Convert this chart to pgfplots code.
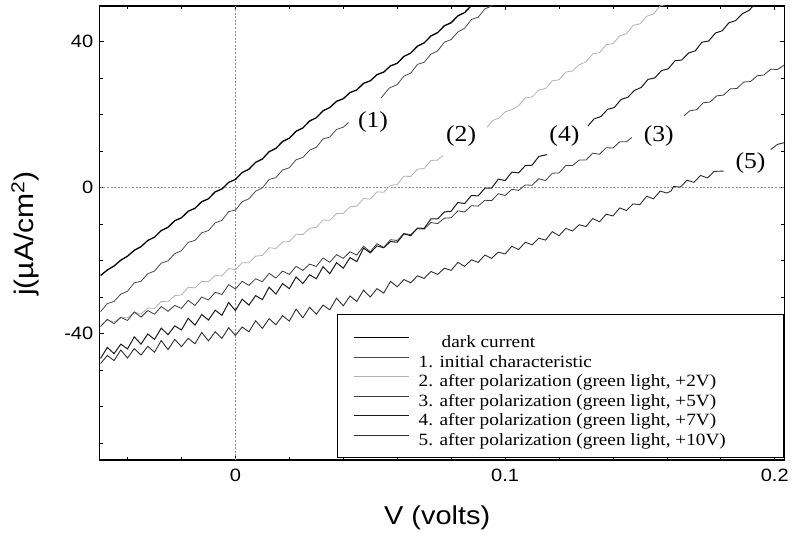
\documentclass[border=0pt]{standalone}
\usepackage{fontspec}
\setmainfont{Liberation Sans}[FakeStretch=1.12]
\newfontfamily\seriffont{Liberation Serif}[FakeStretch=1.12]
\usepackage{pgfplots}
\pgfplotsset{compat=1.18}
\usetikzlibrary{calc}
\definecolor{cdark}{HTML}{000000}
\definecolor{cone}{HTML}{4A4A4A}
\definecolor{ctwo}{HTML}{B2B2B2}
\definecolor{cthree}{HTML}{3C3C3C}
\definecolor{cfour}{HTML}{1A1A1A}
\definecolor{cfive}{HTML}{2E2E2E}
\begin{document}
\begin{tikzpicture}
\begin{axis}[
  scale only axis, width=686bp, height=455bp,
  xmin=-0.0503, xmax=0.2035, ymin=-74.6, ymax=49.7,
  xtick={0,0.1,0.2}, minor xtick={-0.04,-0.02,0.02,0.04,0.06,0.08,0.12,0.14,0.16,0.18},
  ytick={-40,0,40}, minor ytick={-70,-60,-50,-30,-20,-10,10,20,30},
  xticklabels={0,0.1,0.2},
  tick pos=both, tick align=inside,
  major tick length=4bp, minor tick length=3bp,
  tick style={black, line width=0.7bp},
  axis line style={line width=1.3bp},
  /pgf/number format/assume math mode=true,
  ticklabel style={font=\fontsize{18}{20}\selectfont},
  xticklabel style={yshift=-6bp},
  yticklabel style={xshift=-3bp},
  xlabel={V (volts)}, ylabel={j(µA/cm\textsuperscript{2})},
  xlabel style={font=\fontsize{26}{28}\selectfont, at={(axis description cs:0.493,-0.127)}, anchor=center},
  ylabel style={font=\fontsize{27}{29}\selectfont, at={(axis description cs:-0.109,0.499)}, anchor=center},
  legend style={at={(rel axis cs:1,0.321)}, anchor=north east, draw=black, line width=1bp,
    font=\seriffont\fontsize{17.3}{20}\selectfont, inner xsep=16bp, inner ysep=12bp,
    row sep=-2.6bp, column sep=7bp, nodes={inner ysep=0.8bp, text height=20.5bp, text depth=0bp}},
  legend cell align=left,
  legend image code/.code={\draw[#1] (0bp,0bp) -- (55bp,0bp);},
]
\draw[ctwo!80!black, line width=0.6bp, dash pattern=on 2bp off 1.6bp] (axis cs:0,-74.6) -- (axis cs:0,49.7);
\draw[ctwo!80!black, line width=0.6bp, dash pattern=on 2bp off 1.6bp] (axis cs:-0.0503,0) -- (axis cs:0.2035,0);

% dark current
\addplot[cdark, line width=1.3bp] coordinates {
(-0.05,-24.1) (-0.0475,-22.6) (-0.045,-21.5) (-0.0425,-19.9) (-0.04,-18.8) (-0.0375,-17.2)
(-0.035,-16.2) (-0.0325,-14.5) (-0.03,-13.6) (-0.0275,-11.8) (-0.025,-10.9) (-0.0225,-9.1)
(-0.02,-8.3) (-0.0175,-6.5) (-0.015,-5.7) (-0.0125,-3.9) (-0.01,-3.1) (-0.0075,-1.2)
(-0.005,-0.4) (-0.0025,1.4) (0,2.2) (0.0025,4.1) (0.005,5.0) (0.0075,6.9) (0.01,7.8)
(0.0125,9.8) (0.015,10.7) (0.0175,12.6) (0.02,13.5) (0.0225,15.4) (0.025,16.3) (0.0275,18.2)
(0.03,19.1) (0.0325,21.0) (0.035,21.9) (0.0375,23.6) (0.04,24.3) (0.0425,26.0) (0.045,26.7)
(0.0475,28.5) (0.05,29.2) (0.0525,30.9) (0.055,31.6) (0.0575,33.3) (0.06,34.0) (0.0625,35.9)
(0.065,36.8) (0.0675,38.7) (0.07,39.6) (0.0725,41.5) (0.075,42.4) (0.0775,44.3) (0.08,45.1)
(0.0825,47.0) (0.085,47.9) (0.0875,49.8) (0.09,50.7) (0.095,53.5)
};
% 1. initial characteristic
\addplot[cone, line width=0.8bp] coordinates {
(-0.05,-34.0) (-0.0475,-31.8) (-0.045,-31.2) (-0.0425,-29.2) (-0.04,-28.4) (-0.0375,-26.1)
(-0.035,-25.7) (-0.0325,-23.6) (-0.03,-22.9) (-0.0275,-20.7) (-0.025,-20.1) (-0.0225,-18.1)
(-0.02,-17.3) (-0.0175,-15.0) (-0.015,-14.5) (-0.0125,-12.4) (-0.01,-11.8) (-0.0075,-9.7)
(-0.005,-9.0) (-0.0025,-6.6) (0,-6.2) (0.0025,-3.9) (0.005,-3.1) (0.0075,-1.0) (0.01,-0.1)
(0.0125,2.2) (0.015,2.7) (0.0175,4.8) (0.02,5.4) (0.0225,7.6) (0.025,8.2) (0.0275,10.2)
(0.03,11.0) (0.0325,13.3) (0.035,13.8) (0.0375,15.9) (0.04,16.5) (0.042,17.8)
};
% 2. +2V
\addplot[ctwo, line width=0.8bp] coordinates {
(-0.05,-37.8) (-0.0475,-36.3) (-0.045,-36.8) (-0.0425,-35.5) (-0.04,-35.7) (-0.0375,-34.1)
(-0.035,-34.7) (-0.0325,-33.0) (-0.03,-33.1) (-0.0275,-31.2) (-0.025,-31.3) (-0.0225,-29.6)
(-0.02,-29.4) (-0.0175,-27.3) (-0.015,-27.5) (-0.0125,-25.7) (-0.01,-25.8) (-0.0075,-24.1)
(-0.005,-24.2) (-0.0025,-22.2) (0,-22.5) (0.0025,-20.6) (0.005,-20.6) (0.0075,-18.8)
(0.01,-18.6) (0.0125,-16.5) (0.015,-16.7) (0.0175,-14.9) (0.02,-14.8) (0.0225,-12.8)
(0.025,-12.9) (0.0275,-11.2) (0.03,-10.9) (0.0325,-8.9) (0.035,-9.0) (0.0375,-7.1)
(0.04,-7.1) (0.0425,-5.3) (0.045,-5.1) (0.0475,-3.0) (0.05,-3.2) (0.0525,-1.2) (0.055,-1.3)
(0.0575,0.6) (0.06,0.8) (0.0625,3.1) (0.065,3.0) (0.0675,5.0) (0.07,5.2) (0.0725,7.4)
(0.075,7.5) (0.077,8.8)
};
% 3. +5V
\addplot[cthree, line width=0.8bp] coordinates {
(-0.05,-38.1) (-0.0475,-36.1) (-0.045,-37.3) (-0.0425,-35.6) (-0.04,-36.4) (-0.0375,-34.1)
(-0.035,-35.5) (-0.0325,-33.7) (-0.03,-34.7) (-0.0275,-32.6) (-0.025,-33.9) (-0.0225,-32.3)
(-0.02,-33.1) (-0.0175,-30.9) (-0.015,-32.3) (-0.0125,-30.0) (-0.01,-30.8) (-0.0075,-28.7)
(-0.005,-29.3) (-0.0025,-26.6) (0,-27.8) (0.0025,-25.7) (0.005,-26.8) (0.0075,-25.0)
(0.01,-25.8) (0.0125,-23.5) (0.015,-24.8) (0.0175,-22.9) (0.02,-23.8) (0.0225,-21.6)
(0.025,-22.7) (0.0275,-21.0) (0.03,-21.6) (0.0325,-19.3) (0.035,-20.5) (0.0375,-18.4)
(0.04,-19.4) (0.0425,-17.6) (0.045,-18.5) (0.0475,-16.1) (0.05,-17.6) (0.0525,-15.4)
(0.055,-16.4) (0.0575,-14.3) (0.06,-14.5) (0.0625,-12.6) (0.065,-12.9) (0.0675,-11.3)
(0.07,-11.4) (0.0725,-9.6) (0.075,-9.9) (0.0775,-8.4) (0.08,-8.3) (0.0825,-6.4) (0.085,-6.7)
(0.0875,-5.0) (0.09,-5.1) (0.0925,-3.5) (0.095,-3.6) (0.0975,-1.7) (0.1,-2.2) (0.1025,-0.5)
(0.105,-0.8) (0.1075,0.7) (0.11,0.6) (0.1125,2.4) (0.115,1.9) (0.1175,3.9) (0.12,4.0)
(0.1225,6.0) (0.125,6.0) (0.1275,7.5) (0.13,7.5) (0.1325,9.4) (0.135,9.1) (0.1375,10.9)
(0.14,10.8) (0.1425,12.5) (0.145,12.5) (0.147,13.7)
};
% 4. +7V
\addplot[cfour, line width=1.0bp] coordinates {
(-0.05,-46.8) (-0.0475,-43.8) (-0.045,-45.5) (-0.0425,-42.9) (-0.04,-44.2) (-0.0375,-40.9)
(-0.035,-42.9) (-0.0325,-40.1) (-0.03,-41.6) (-0.0275,-38.5) (-0.025,-40.3) (-0.0225,-37.9)
(-0.02,-39.0) (-0.0175,-35.8) (-0.015,-37.7) (-0.0125,-34.8) (-0.01,-36.3) (-0.0075,-33.6)
(-0.005,-35.0) (-0.0025,-31.5) (0,-33.7) (0.0025,-30.6) (0.005,-32.2) (0.0075,-29.6)
(0.01,-30.7) (0.0125,-27.3) (0.015,-29.2) (0.0175,-26.3) (0.02,-27.7) (0.0225,-24.5)
(0.025,-26.3) (0.0275,-23.9) (0.03,-25.0) (0.0325,-21.7) (0.035,-23.6) (0.0375,-20.6)
(0.04,-22.1) (0.0425,-19.2) (0.045,-20.3) (0.0475,-16.6) (0.05,-17.9) (0.0525,-16.0)
(0.055,-16.5) (0.0575,-14.8) (0.06,-15.0) (0.0625,-12.7) (0.065,-13.2) (0.0675,-11.1)
(0.07,-11.2) (0.0725,-8.6) (0.075,-8.6) (0.0775,-6.7) (0.08,-6.5) (0.0825,-4.1) (0.085,-4.4)
(0.0875,-2.2) (0.09,-2.3) (0.0925,-0.2) (0.095,-0.2) (0.0975,2.3) (0.1,1.9) (0.1025,4.2)
(0.105,4.0) (0.1075,6.0) (0.11,6.1) (0.1125,8.5) (0.1156,9.0)
};
% 5. +10V
\addplot[cfive, line width=0.9bp] coordinates {
(-0.05,-48.2) (-0.0475,-46.0) (-0.045,-47.4) (-0.0425,-44.5) (-0.04,-46.7) (-0.0375,-44.1)
(-0.035,-45.9) (-0.0325,-43.5) (-0.03,-45.1) (-0.0275,-41.9) (-0.025,-44.4) (-0.0225,-41.6)
(-0.02,-43.6) (-0.0175,-41.3) (-0.015,-42.8) (-0.0125,-39.7) (-0.01,-42.0) (-0.0075,-39.5)
(-0.005,-41.3) (-0.0025,-38.4) (0,-40.5) (0.0025,-38.2) (0.005,-39.5) (0.0075,-36.5)
(0.01,-38.6) (0.0125,-35.9) (0.015,-37.6) (0.0175,-35.1) (0.02,-36.6) (0.0225,-33.3)
(0.025,-35.7) (0.0275,-32.8) (0.03,-34.7) (0.0325,-32.2) (0.035,-33.5) (0.0375,-30.3)
(0.04,-32.4) (0.0425,-29.7) (0.045,-31.2) (0.0475,-28.1) (0.05,-30.0) (0.0525,-27.7)
(0.055,-28.9) (0.0575,-25.7) (0.06,-27.2) (0.0625,-25.2) (0.065,-26.1) (0.0675,-24.2)
(0.07,-24.9) (0.0725,-23.0) (0.075,-23.8) (0.0775,-22.1) (0.08,-22.7) (0.0825,-20.5)
(0.085,-21.6) (0.0875,-19.8) (0.09,-20.5) (0.0925,-18.5) (0.095,-19.4) (0.0975,-17.7)
(0.1,-18.2) (0.1025,-16.1) (0.105,-17.0) (0.1075,-15.0) (0.11,-15.7) (0.1125,-13.9)
(0.115,-14.4) (0.1175,-12.1) (0.12,-13.2) (0.1225,-11.2) (0.125,-11.9) (0.1275,-10.2)
(0.13,-10.7) (0.1325,-8.5) (0.135,-9.4) (0.1375,-7.3) (0.14,-7.8) (0.1425,-5.6) (0.145,-6.3)
(0.1475,-4.5) (0.15,-4.7) (0.1525,-2.4) (0.155,-3.1) (0.1575,-1.0) (0.16,-1.5) (0.1615,-1.0)
(0.1625,0.3) (0.165,0.1) (0.1675,2.0) (0.17,1.4) (0.1725,3.3) (0.175,2.6) (0.1775,4.4)
(0.181,4.5)
};

% continuations after the curve labels
\addplot[cone, line width=0.8bp, forget plot] coordinates {
(0.054,24.5) (0.057,27.2) (0.06,28.2) (0.0625,30.5) (0.065,31.3) (0.0675,33.7) (0.07,34.3)
(0.0725,36.5) (0.075,37.4) (0.0775,39.8) (0.08,40.5) (0.0825,42.6) (0.085,43.6) (0.0875,46.0)
(0.09,46.6) (0.0925,48.9) (0.095,49.7) (0.0975,52.0) (0.1,52.8)
};
\addplot[ctwo, line width=0.8bp, forget plot] coordinates {
(0.0933,16.5) (0.0955,18.4) (0.0978,19.0) (0.1,20.7) (0.1025,21.3) (0.105,22.4) (0.1075,24.5)
(0.11,24.8) (0.1125,26.7) (0.115,27.1) (0.1175,29.2) (0.12,29.5) (0.1225,31.6) (0.125,31.9)
(0.1275,33.6) (0.13,34.4) (0.1325,36.6) (0.135,36.9) (0.1375,39.1) (0.14,39.4) (0.1425,41.5)
(0.145,42.1) (0.1475,44.4) (0.15,44.8) (0.1525,46.9) (0.155,47.5) (0.1575,49.7) (0.16,50.2)
(0.165,53.0)
};
\addplot[cthree, line width=0.8bp, forget plot] coordinates {
(0.1663,19.6) (0.1685,21.0) (0.171,21.3) (0.1735,23.2) (0.176,23.4) (0.1785,25.1) (0.181,25.3)
(0.1835,27.0) (0.186,27.1) (0.1885,28.9) (0.191,29.0) (0.1935,30.6) (0.196,30.8) (0.1985,32.4)
(0.201,32.3) (0.2037,33.6)
};
\addplot[cfour, line width=1.0bp, forget plot] coordinates {
(0.1307,16.8) (0.133,18.8) (0.1355,19.4) (0.138,21.4) (0.1405,21.9) (0.143,24.1) (0.1455,24.7)
(0.148,26.6) (0.1505,27.4) (0.153,29.6) (0.1555,30.0) (0.158,32.0) (0.1605,32.5) (0.163,34.7)
(0.1655,34.9) (0.168,36.8) (0.1705,37.4) (0.173,39.8) (0.1755,40.1) (0.178,42.3) (0.1805,42.9)
(0.183,45.1) (0.1855,45.7) (0.188,47.6) (0.1905,48.5) (0.193,50.6) (0.1955,51.3)
};
\addplot[cfive, line width=0.9bp, forget plot] coordinates {
(0.1985,10.4) (0.201,11.8) (0.2037,12.3)
};

\node[font=\seriffont\fontsize{23}{25}\selectfont] at (axis cs:0.051,18) {(1)};
\node[font=\seriffont\fontsize{23}{25}\selectfont] at (axis cs:0.0837,14) {(2)};
\node[font=\seriffont\fontsize{23}{25}\selectfont] at (axis cs:0.122,14) {(4)};
\node[font=\seriffont\fontsize{23}{25}\selectfont] at (axis cs:0.157,14) {(3)};
\node[font=\seriffont\fontsize{23}{25}\selectfont] at (axis cs:0.191,6.8) {(5)};

\legend{\hspace*{23bp}dark current, 1. initial characteristic,
  2. after polarization (green light{,} +2V),
  3. after polarization (green light{,} +5V),
  4. after polarization (green light{,} +7V),
  5. after polarization (green light{,} +10V)\hspace*{40bp}}
\end{axis}
\path ($(current axis.south west)+(-100bp,-78bp)$) rectangle ($(current axis.north east)+(6bp,6bp)$);
\end{tikzpicture}
\end{document}
